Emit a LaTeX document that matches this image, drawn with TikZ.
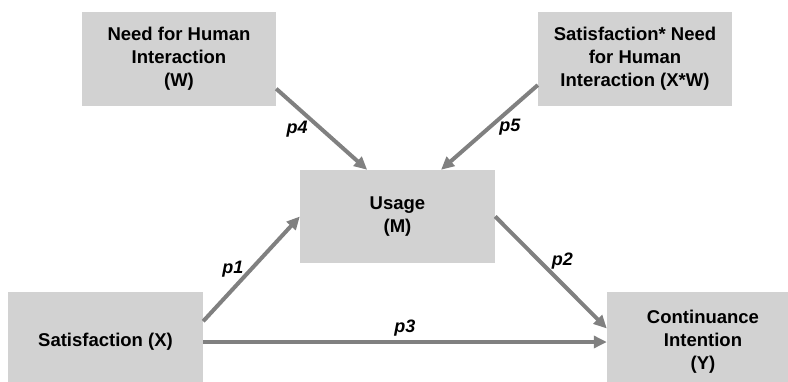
\documentclass[tikz,border=0pt]{standalone}
\usepackage{fontspec}
\setsansfont{Liberation Sans}
\usetikzlibrary{positioning, arrows.meta}
\definecolor{boxgray}{RGB}{210,210,210}
\definecolor{arrgray}{RGB}{128,128,128}

\begin{document}
\begin{tikzpicture}[x=1pt, y=-1pt,
  var/.style={fill=boxgray, inner sep=0pt, minimum width=194pt, minimum height=94pt,
              align=center, font=\sffamily\bfseries\fontsize{18.5}{23}\selectfont},
  outer/.style={var, minimum height=100pt},
  arr/.style={-{Triangle[length=13pt, width=12pt]}, line width=4pt, color=arrgray},
  lbl/.style={font=\sffamily\bfseries\itshape\fontsize{18}{20}\selectfont, text=black,
              inner sep=0pt},
]
\clip (0,0) rectangle (788,381);

% ---- Moderator boxes (top row) ----
\node[var] (W) at (179,59) {Need for Human\\Interaction\\(W)};
\node[var] (XW) at (635,59) {Satisfaction* Need\\for Human\\Interaction (X*W)};

% ---- Mediator (center) ----
\node[var, minimum width=195pt, minimum height=93pt] (M) at (397.5,216.5) {Usage\\(M)};

% ---- Predictor and outcome (bottom row) ----
\node[outer, minimum width=195pt] (X) at (105.5,342) {Satisfaction (X)};
\node[outer, minimum width=192pt] (Y) at (703,342) {Continuance\\Intention\\(Y)};

% ---- Paths ----
\draw[arr] (W.-17) -- node[lbl, midway, left=12pt] {p4} (M.123);
\draw[arr] (XW.195) -- node[lbl, midway, right=8pt] {p5} (M.47);
\draw[arr] (X.12) -- node[lbl, midway, left=6pt] {p1} (M.west);
\draw[arr] (M.east) -- node[lbl, pos=0.4, right=10pt] {p2} (Y.172);
\draw[arr] (X.east) -- node[lbl, midway, above=4pt] {p3} (Y.west);

\end{tikzpicture}
\end{document}
